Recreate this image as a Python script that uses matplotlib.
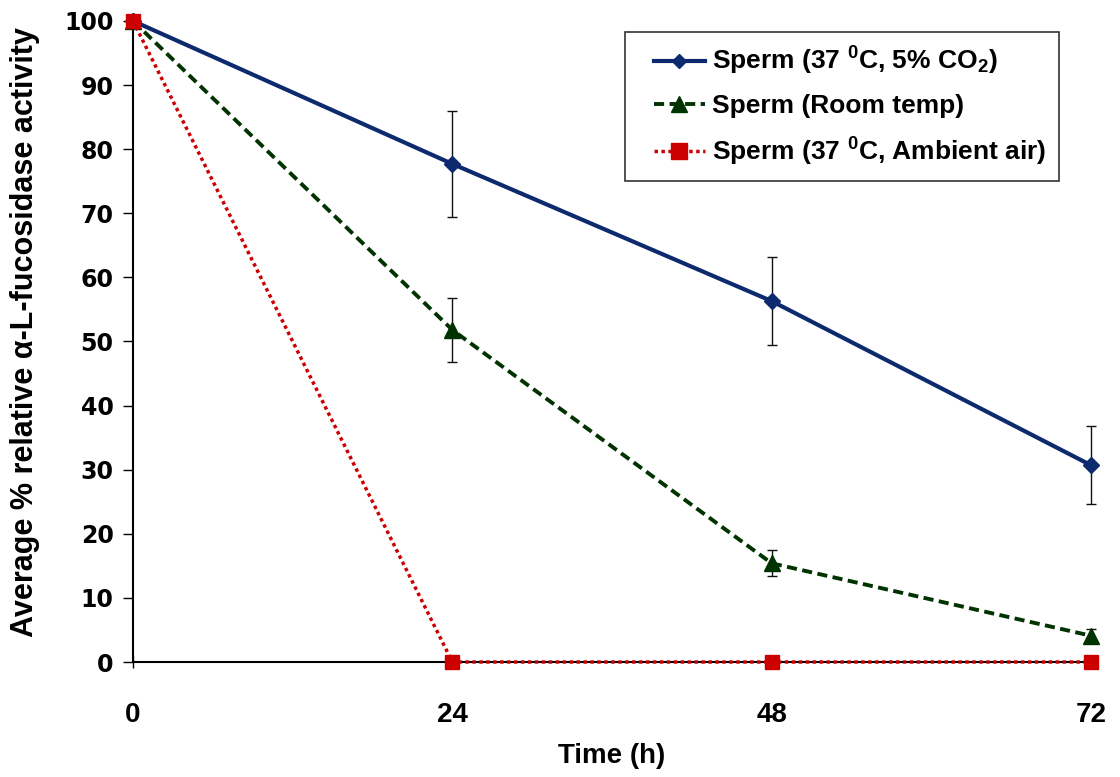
import matplotlib
matplotlib.use("Agg")
import matplotlib.pyplot as plt
from matplotlib.lines import Line2D
from matplotlib.legend_handler import HandlerLine2D

time_h = [0, 24, 48, 72]
co2_vals = [100, 77.7, 56.3, 30.7]
co2_err = [0, 8.3, 6.9, 6.1]
room_vals = [100, 51.8, 15.4, 4.1]
room_err = [0, 5.0, 2.0, 1.1]
air_vals = [100, 0, 0, 0]

labels = [r"Sperm (37 $^{\mathbf{0}}$C, 5% CO$_{\mathbf{2}}$)",
          "Sperm (Room temp)",
          r"Sperm (37 $^{\mathbf{0}}$C, Ambient air)"]
xticks = [0, 24, 48, 72]
yticks = list(range(0, 101, 10))

plt.rcParams['font.family'] = ['Liberation Sans', 'DejaVu Sans']
plt.rcParams['mathtext.fontset'] = 'custom'
plt.rcParams['mathtext.rm'] = 'Liberation Sans:bold'
plt.rcParams['mathtext.bf'] = 'Liberation Sans:bold'
plt.rcParams['mathtext.it'] = 'Liberation Sans:bold'

fig = plt.figure(figsize=(11.2, 7.77), dpi=100)
ax = fig.add_axes([0.1188, 0.148, 0.8553, 0.825])

blue = '#0D2A6E'
green = '#003300'
red = '#CC0000'
dash = (0, (2.6, 1.4))
dot = (0, (1, 1))

ax.errorbar(time_h, co2_vals, yerr=co2_err, color=blue, lw=3, marker='D', ms=8.5,
            ecolor='#111111', elinewidth=1.0, capsize=3.3, capthick=1.0,
            clip_on=False, zorder=3)
ax.errorbar(time_h, room_vals, yerr=room_err, color=green, lw=2.8, ls=dash,
            marker='^', ms=11, ecolor='#111111', elinewidth=1.0, capsize=3.3, capthick=1.0,
            clip_on=False, zorder=4)
ax.plot(time_h, air_vals, color=red, lw=2.5, ls=dot, marker='s', ms=10,
        clip_on=False, zorder=5)

ax.set_xlim(0, 72)
ax.set_ylim(0, 100)
ax.set_xticks(xticks)
ax.set_yticks(yticks)
ax.spines['top'].set_visible(False)
ax.spines['right'].set_visible(False)
ax.spines['left'].set_linewidth(1.5)
ax.spines['bottom'].set_linewidth(1.5)
ax.tick_params(axis='y', direction='out', length=7, width=1, labelsize=17, pad=7)
ax.tick_params(axis='x', direction='inout', length=9, width=1, labelsize=20, pad=24)
for t in ax.get_yticklabels():
    t.set_fontweight('bold')
    t.set_family(['DejaVu Sans'])
for t in ax.get_xticklabels():
    t.set_fontweight('bold')

ax.set_xlabel("Time (h)", fontsize=20, fontweight='bold')
ax.xaxis.set_label_coords(0.5, -0.127)
ax.set_ylabel("Average % relative α-L-fucosidase activity", fontsize=22, fontweight='bold')
ax.yaxis.set_label_coords(-0.097, 0.515)

handles = [
    Line2D([], [], color=blue, lw=3, marker='D', ms=7),
    Line2D([], [], color=green, lw=2.8, ls=dash, marker='^', ms=11),
    Line2D([], [], color=red, lw=2.5, ls=dot, marker='s', ms=11),
]
leg = ax.legend(handles, labels, loc='upper right', bbox_to_anchor=(0.967, 0.983),
                prop={'weight': 'bold', 'size': 19},
                handler_map={Line2D: HandlerLine2D(xpad=0.6)},
                frameon=True, fancybox=False, edgecolor='black', handlelength=2.55,
                borderpad=0.5, labelspacing=0.65, handletextpad=0.25, borderaxespad=0)
leg.get_frame().set_linewidth(1.2)

fig.savefig("out.png", dpi=100)
